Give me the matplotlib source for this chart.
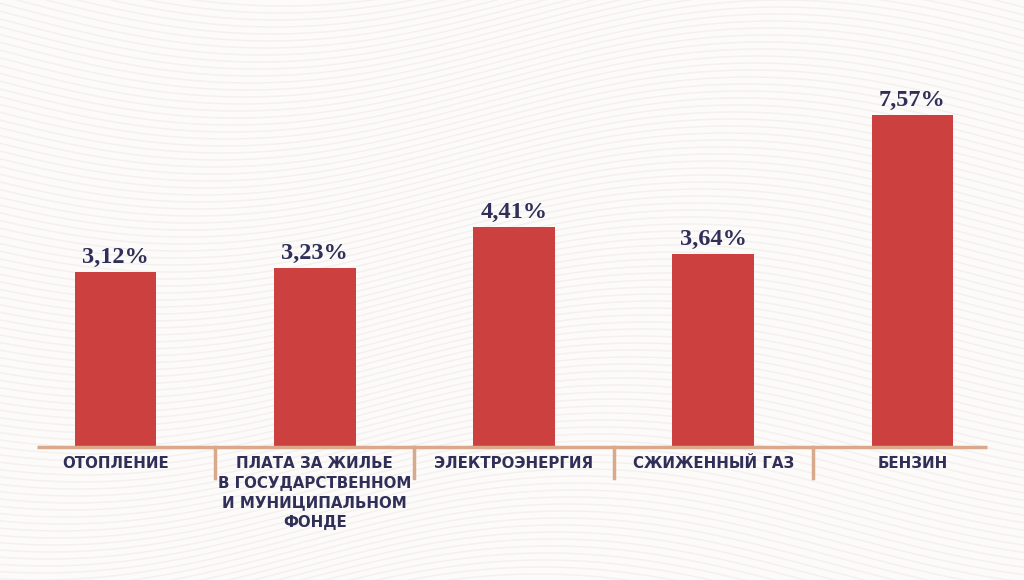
import numpy as np
import matplotlib.pyplot as plt
from matplotlib.transforms import blended_transform_factory

# Datos
categorias = ["ОТОПЛЕНИЕ",
              "ПЛАТА ЗА ЖИЛЬЕ\nВ ГОСУДАРСТВЕННОМ\nИ МУНИЦИПАЛЬНОМ\nФОНДЕ",
              "ЭЛЕКТРОЭНЕРГИЯ",
              "СЖИЖЕННЫЙ ГАЗ",
              "БЕНЗИН"]
valores = [3.12, 3.23, 4.41, 3.64, 7.57]
etiquetas = ["3,12%", "3,23%", "4,41%", "3,64%", "7,57%"]

ROJO = "#cc4140"
AZUL = "#2f2f58"
EJE = "#d8a98a"
FONDO = "#fcfbfa"

base = -1.82  # el gráfico original no parte de cero

fig = plt.figure(figsize=(10.24, 5.8), dpi=100, facecolor=FONDO)

# fondo ondulado suave
ax_bg = fig.add_axes([0, 0, 1, 1], zorder=0)
ax_bg.set_xlim(0, 1024)
ax_bg.set_ylim(580, 0)
ax_bg.axis("off")
xs = np.linspace(0, 1024, 400)
for y0 in np.arange(-200, 800, 7):
    ax_bg.plot(xs, y0 + 45 * np.sin(xs / 170.0 + y0 / 400.0), color="#f3f0ed", lw=1.0)

ax = fig.add_axes([0, 133 / 580, 1, 447 / 580], zorder=1)
ax.patch.set_alpha(0)

x = np.arange(len(valores))
ax.bar(x, np.array(valores) - base, bottom=base, width=0.41, color=ROJO, zorder=3)
ax.set_xlim(-0.580, 4.560)
ax.set_ylim(base, base + 447 / 35.37)

for xi, v, t in zip(x, valores, etiquetas):
    ax.annotate(t, (xi, v), xytext=(0, 3), textcoords="offset points",
                ha="center", va="bottom", fontsize=17.5, fontweight="bold",
                family="Liberation Serif", color=AZUL)

# línea base y separadores
ax.plot([-0.395, 4.374], [base, base], color=EJE, lw=2.5, clip_on=False, zorder=4,
        solid_capstyle="butt")
tr = blended_transform_factory(ax.transData, ax.transAxes)
for s in x[:-1] + 0.5:
    ax.plot([s, s], [0, -31 / 447], color=EJE, lw=2.5, transform=tr, clip_on=False)

for xi, c in zip(x, categorias):
    ax.text(xi, -9 / 447, c, transform=tr, ha="center", va="top", fontsize=10.8,
            fontweight="bold", family="DejaVu Sans", color=AZUL, linespacing=1.38)

for sp in ax.spines.values():
    sp.set_visible(False)
ax.set_xticks([])
ax.set_yticks([])

fig.savefig("out.png", dpi=100, facecolor=FONDO)
